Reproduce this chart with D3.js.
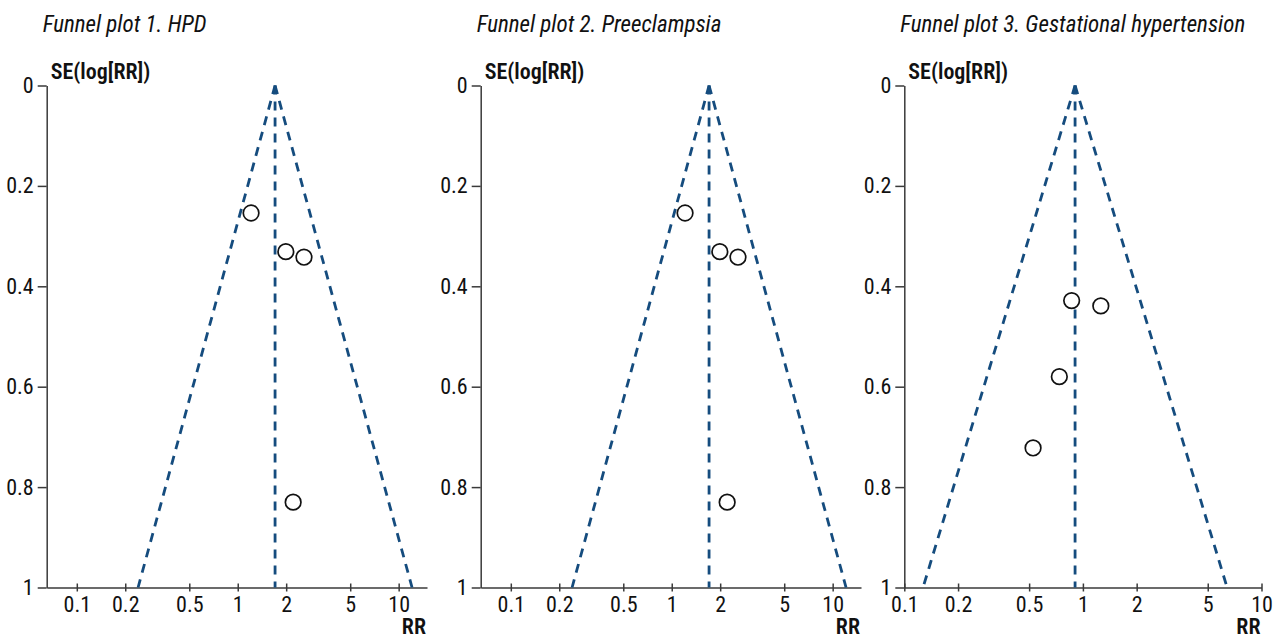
<!DOCTYPE html>
<html>
<head>
<meta charset="utf-8">
<script src="https://cdn.jsdelivr.net/npm/d3@7"></script>
<style>
  body { margin: 0; background: #fff; }
  svg text { font-family: "Liberation Sans Narrow", "Roboto Condensed", "DejaVu Sans Condensed", "Arial Narrow", sans-serif; fill: #111; }
</style>
</head>
<body>
<svg></svg>
<script>
// titles of the three panels
let titles = ['Funnel plot 1. HPD', 'Funnel plot 2. Preeclampsia', 'Funnel plot 3. Gestational hypertension']

// study estimates (RR and its SE of log RR)
let hpdRR = [1.21, 1.99, 2.58, 2.21]
let hpdSE = [0.254, 0.331, 0.342, 0.830]
let preRR = [1.21, 1.99, 2.58, 2.21]
let preSE = [0.254, 0.331, 0.342, 0.830]
let ghRR = [0.865, 1.26, 0.738, 0.526]
let ghSE = [0.4285, 0.439, 0.580, 0.722]

// pooled estimates (vertical dashed line)
let pooled = [1.706, 1.706, 0.904]

// axis ticks
let xTicks = [0.1, 0.2, 0.5, 1, 2, 5, 10]
let xTickLabels = ['0.1', '0.2', '0.5', '1', '2', '5', '10']
let yTicks = [0, 0.2, 0.4, 0.6, 0.8, 1]
let yTickLabels = ['0', '0.2', '0.4', '0.6', '0.8', '1']

let xDomains = [[0.065, 15], [0.065, 15], [0.1, 10]]

let width = 1276
let height = 638
let plotTop = 85.5
let plotBottom = 587.5
let panelX = [[46.7, 427], [480.7, 861], [904.3, 1261.5]]
let lineColor = '#154c7e'

let svg = d3.select('svg')
  .attr('width', width)
  .attr('height', height)

let seriesRR = [hpdRR, preRR, ghRR]
let seriesSE = [hpdSE, preSE, ghSE]

let yScale = d3.scaleLinear().domain([0, 1]).range([plotTop, plotBottom])

let drawPanel = (i) => {
  let g = svg.append('g')
  let x0 = panelX[i][0], x1 = panelX[i][1]
  let xScale = d3.scaleLog().domain(xDomains[i]).range([x0, x1])

  // title
  g.append('text')
    .attr('x', x0 - 4)
    .attr('y', 32)
    .attr('font-size', 23)
    .attr('font-style', 'italic')
    .text(titles[i])

  // y axis
  let yAxis = d3.axisLeft(yScale)
    .tickValues(yTicks)
    .tickFormat((d, k) => yTickLabels[k])
    .tickSizeInner(9)
    .tickSizeOuter(0)
    .tickPadding(4)
  let ya = g.append('g')
    .attr('transform', 'translate(' + x0 + ',0)')
    .call(yAxis)
  ya.selectAll('text').attr('font-size', 22).attr('font-family', null)

  // x axis
  let xAxis = d3.axisBottom(xScale)
    .tickValues(xTicks)
    .tickFormat((d, k) => xTickLabels[k])
    .tickSizeInner(4)
    .tickSizeOuter(0)
    .tickPadding(5)
  let xa = g.append('g')
    .attr('transform', 'translate(0,' + plotBottom + ')')
    .call(xAxis)
  xa.selectAll('.tick line').attr('y1', -4).attr('y2', 4)
  xa.selectAll('text').attr('font-size', 22).attr('font-family', null)

  g.selectAll('.domain, .tick line')
    .attr('stroke', '#3a3a3a')
    .attr('stroke-width', 1.5)

  // axis titles
  g.append('text')
    .attr('x', x0 + 4)
    .attr('y', 79)
    .attr('font-size', 22)
    .attr('font-weight', 600)
    .text('SE(log[RR])')

  g.append('text')
    .attr('x', x1 - 1)
    .attr('y', 634)
    .attr('text-anchor', 'end')
    .attr('font-size', 22)
    .attr('font-weight', 600)
    .text('RR')

  // funnel: pooled +/- 1.96 SE on log scale
  let p = pooled[i]
  let funnel = [
    [[p, 0], [p * Math.exp(-1.96), 1]],
    [[p, 0], [p * Math.exp(1.96), 1]],
    [[p, 0], [p, 1]]
  ]
  let line = d3.line().x(d => xScale(d[0])).y(d => yScale(d[1]))
  g.selectAll('path.funnel')
    .data(funnel)
    .enter()
    .append('path')
    .attr('class', 'funnel')
    .attr('d', line)
    .attr('fill', 'none')
    .attr('stroke', lineColor)
    .attr('stroke-width', 2.8)
    .attr('stroke-dasharray', '9,7')

  // studies
  let pts = seriesRR[i].map((r, k) => ({ rr: r, se: seriesSE[i][k] }))
  g.selectAll('circle')
    .data(pts)
    .enter()
    .append('circle')
    .attr('cx', d => xScale(d.rr))
    .attr('cy', d => yScale(d.se))
    .attr('r', 7.8)
    .attr('fill', '#fff')
    .attr('stroke', '#111')
    .attr('stroke-width', 1.7)
}

titles.forEach((t, i) => drawPanel(i))
</script>
</body>
</html>
